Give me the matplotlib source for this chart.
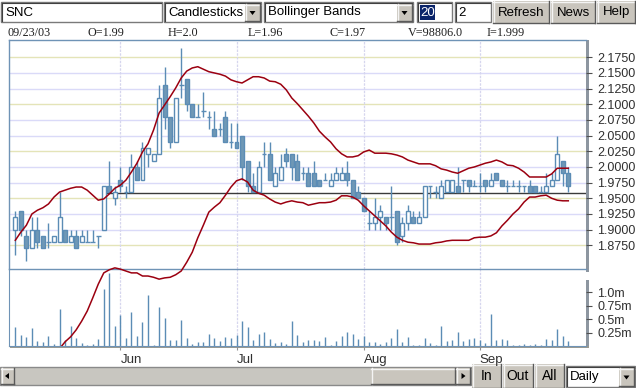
import numpy as np
import matplotlib
matplotlib.use('Agg')
import matplotlib.pyplot as plt
from matplotlib.patches import Rectangle, Polygon
from matplotlib.transforms import Bbox, TransformedBbox

# daily bars, 101 sessions ending 09/23/03
opens = [1.90, 1.93, 1.89, 1.87, 1.90, 1.89, 1.88, 1.88, 1.88, 1.90,
         1.88, 1.89, 1.88, 1.88, 1.88, 1.89, 1.90, 1.97, 1.95, 1.98,
         1.96, 1.96, 2.00, 1.98, 2.02, 2.01, 2.02, 2.13, 2.08, 2.04,
         2.13, 2.14, 2.10, 2.08, 2.09, 2.08, 2.06, 2.06, 2.08, 2.04,
         2.04, 2.05, 2.01, 1.97, 1.96, 2.02, 2.02, 1.97, 1.98, 2.02,
         2.02, 2.01, 1.99, 1.99, 1.99, 1.98, 1.98, 1.97, 1.98, 1.98,
         1.99, 1.98, 1.96, 1.95, 1.91, 1.91, 1.92, 1.92, 1.92, 1.93,
         1.89, 1.91, 1.92, 1.91, 1.92, 1.97, 1.96, 1.95, 1.96, 1.96,
         1.97, 1.98, 1.98, 1.97, 1.97, 1.98, 1.97, 1.99, 1.98, 1.97,
         1.97, 1.97, 1.97, 1.97, 1.97, 1.96, 1.96, 1.97, 1.98, 2.01,
         1.99]
highs = [1.93, 1.93, 1.90, 1.92, 1.92, 1.89, 1.91, 1.89, 1.96, 1.90,
         1.90, 1.90, 1.90, 1.90, 1.90, 1.89, 1.97, 2.01, 1.97, 2.00,
         1.97, 2.02, 2.01, 2.04, 2.03, 2.02, 2.13, 2.16, 2.08, 2.11,
         2.19, 2.14, 2.10, 2.10, 2.12, 2.09, 2.09, 2.07, 2.09, 2.07,
         2.07, 2.05, 2.01, 1.99, 2.01, 2.04, 2.04, 2.00, 2.02, 2.03,
         2.02, 2.02, 2.00, 2.00, 2.01, 1.98, 1.99, 1.99, 2.00, 2.00,
         2.01, 1.98, 1.97, 1.95, 1.93, 1.95, 1.94, 1.92, 1.97, 1.93,
         1.92, 1.94, 1.93, 1.93, 1.97, 1.97, 1.97, 1.98, 1.98, 1.98,
         2.00, 1.98, 1.98, 1.98, 1.99, 1.98, 1.99, 1.99, 1.98, 1.98,
         1.98, 1.98, 1.97, 1.98, 1.97, 1.97, 1.99, 1.99, 2.05, 2.01,
         2.00]
lows = [1.86, 1.89, 1.85, 1.87, 1.87, 1.87, 1.87, 1.88, 1.88, 1.88,
        1.88, 1.87, 1.88, 1.88, 1.88, 1.87, 1.90, 1.96, 1.94, 1.96,
        1.95, 1.96, 1.98, 1.98, 2.00, 2.01, 2.02, 2.06, 2.03, 2.04,
        2.11, 2.09, 2.08, 2.08, 2.08, 2.06, 2.05, 2.05, 2.04, 2.03,
        2.03, 1.98, 1.96, 1.96, 1.96, 2.00, 1.98, 1.97, 1.98, 2.00,
        1.98, 1.98, 1.98, 1.97, 1.97, 1.97, 1.98, 1.97, 1.98, 1.98,
        1.97, 1.95, 1.95, 1.93, 1.90, 1.90, 1.90, 1.90, 1.90, 1.875,
        1.88, 1.90, 1.91, 1.91, 1.92, 1.95, 1.95, 1.95, 1.96, 1.96,
        1.96, 1.96, 1.96, 1.97, 1.96, 1.96, 1.97, 1.98, 1.97, 1.96,
        1.97, 1.96, 1.96, 1.96, 1.96, 1.96, 1.96, 1.97, 1.98, 1.97,
        1.96]
closes = [1.92, 1.90, 1.87, 1.90, 1.88, 1.87, 1.88, 1.89, 1.92, 1.88,
          1.89, 1.87, 1.89, 1.88, 1.88, 1.89, 1.97, 1.96, 1.96, 1.97,
          1.96, 2.00, 1.98, 2.03, 2.03, 2.02, 2.11, 2.08, 2.04, 2.11,
          2.13, 2.10, 2.08, 2.08, 2.09, 2.08, 2.05, 2.06, 2.04, 2.04,
          2.03, 2.00, 1.97, 1.96, 2.00, 2.02, 1.98, 1.99, 2.00, 2.01,
          2.00, 1.98, 1.99, 1.97, 1.97, 1.97, 1.98, 1.98, 1.99, 1.99,
          1.98, 1.95, 1.95, 1.93, 1.91, 1.92, 1.93, 1.91, 1.92, 1.88,
          1.91, 1.93, 1.91, 1.92, 1.97, 1.97, 1.96, 1.97, 1.98, 1.98,
          1.96, 1.98, 1.97, 1.97, 1.97, 1.97, 1.98, 1.98, 1.97, 1.97,
          1.97, 1.97, 1.97, 1.96, 1.96, 1.96, 1.97, 1.98, 2.02, 1.99,
          1.97]
# volume in millions of shares
volumes = [0.36, 0.21, 0.17, 0.34, 0.09, 0.08, 0.19, 0.04, 0.70, 0.11,
           0.38, 0.15, 0.06, 0.02, 0.04, 0.13, 1.06, 1.36, 0.38, 0.57,
           0.15, 0.63, 0.19, 0.44, 0.95, 0.02, 0.72, 0.53, 0.11, 0.11,
           0.49, 0.15, 0.04, 0.08, 0.08, 0.23, 0.15, 0.09, 0.17, 0.15,
           0.20, 0.46, 0.36, 0.11, 0.23, 0.27, 0.13, 0.06, 0.08, 0.04,
           0.46, 0.20, 0.08, 0.11, 0.11, 0.09, 0.17, 0.02, 0.09, 0.19,
           0.27, 0.23, 0.13, 0.19, 0.08, 0.08, 0.04, 0.08, 0.15, 0.32,
           0.08, 0.17, 0.02, 0.02, 0.15, 0.06, 0.02, 0.38, 0.09, 0.11,
           0.27, 0.09, 0.13, 0.15, 0.11, 0.06, 0.59, 0.11, 0.13, 0.11,
           0.02, 0.02, 0.04, 0.02, 0.04, 0.02, 0.13, 0.11, 0.32, 0.19,
           0.0988]
# Bollinger bands (20, 2) as drawn
upper_band = [1.883, 1.896, 1.907, 1.925, 1.931, 1.935, 1.941, 1.952, 1.960, 1.963,
              1.966, 1.968, 1.968, 1.963, 1.955, 1.947, 1.949, 1.957, 1.966, 1.971,
              1.979, 1.992, 2.006, 2.024, 2.037, 2.059, 2.086, 2.099, 2.112, 2.126,
              2.142, 2.153, 2.158, 2.160, 2.156, 2.152, 2.150, 2.148, 2.145, 2.139,
              2.136, 2.134, 2.139, 2.144, 2.144, 2.142, 2.137, 2.136, 2.132, 2.123,
              2.110, 2.101, 2.091, 2.081, 2.070, 2.057, 2.048, 2.040, 2.029, 2.021,
              2.016, 2.016, 2.018, 2.024, 2.027, 2.022, 2.022, 2.022, 2.021, 2.019,
              2.016, 2.011, 2.008, 2.005, 2.005, 2.005, 2.002, 1.997, 1.995, 1.992,
              1.990, 1.994, 1.998, 2.000, 2.003, 2.006, 2.008, 2.011, 2.008, 2.003,
              2.002, 1.998, 1.992, 1.984, 1.984, 1.984, 1.984, 1.989, 1.998, 1.998,
              1.998]
lower_band = [None, None, None, None, None, None, None, None, 1.710, 1.721,
              1.729, 1.740, 1.754, 1.770, 1.791, 1.813, 1.831, 1.836, 1.839, 1.837,
              1.834, 1.831, 1.831, 1.826, 1.826, 1.824, 1.821, 1.823, 1.824, 1.828,
              1.834, 1.848, 1.864, 1.887, 1.907, 1.928, 1.936, 1.943, 1.955, 1.968,
              1.978, 1.981, 1.976, 1.963, 1.958, 1.955, 1.949, 1.944, 1.941, 1.944,
              1.946, 1.944, 1.943, 1.939, 1.941, 1.943, 1.943, 1.944, 1.947, 1.954,
              1.954, 1.952, 1.947, 1.938, 1.930, 1.922, 1.914, 1.906, 1.896, 1.888,
              1.883, 1.880, 1.879, 1.877, 1.877, 1.877, 1.879, 1.880, 1.882, 1.883,
              1.883, 1.883, 1.883, 1.887, 1.888, 1.888, 1.890, 1.895, 1.906, 1.915,
              1.925, 1.933, 1.944, 1.952, 1.952, 1.954, 1.955, 1.950, 1.947, 1.946,
              1.946]
ref_level = 1.959
ref_start = 16

month_labels = ['Jun', 'Jul', 'Aug', 'Sep']
month_starts = [19, 40, 63, 84]
price_ticks = [1.875, 1.900, 1.925, 1.950, 1.975, 2.000, 2.025, 2.050,
               2.075, 2.100, 2.125, 2.150, 2.175]
vol_ticks = [0.25, 0.5, 0.75, 1.0]
vol_tick_labels = ['0.25m', '0.5m', '0.75m', '1.0m']

info_items = ['09/23/03', 'O=1.99', 'H=2.0', 'L=1.96', 'C=1.97', 'V=98806.0', 'I=1.999']

BLUE = '#5b8cb5'
FILL = '#6f98b6'
RED = '#9b0010'
SANS = 'Liberation Sans'

W, H = 636, 388
fig = plt.figure(figsize=(W / 100, H / 100), dpi=100)
fig.patch.set_facecolor('white')

# ---------- widget layer (pixel coordinates) ----------
ui = fig.add_axes([0, 0, 1, 1], zorder=0)
ui.set_xlim(0, W)
ui.set_ylim(H, 0)
ui.axis('off')


def field(x0, y0, x1, y1, text=None, tx=None):
    ui.add_patch(Rectangle((x0, y0), x1 - x0, y1 - y0, facecolor='white',
                           edgecolor='#7a7a7a', lw=1))
    ui.plot([x0 + 1, x1 - 1], [y0 + 1, y0 + 1], color='#404040', lw=0.8)
    ui.plot([x0 + 1, x0 + 1], [y0 + 1, y1 - 1], color='#404040', lw=0.8)
    if text:
        ui.text(tx if tx else x0 + 4, (y0 + y1) / 2 + 0.5, text, ha='left',
                va='center', fontsize=9.5, family=SANS, color='black')


def button(x0, y0, x1, y1, label=None, size=9.5):
    ui.add_patch(Rectangle((x0, y0), x1 - x0, y1 - y0, facecolor='#c9c5bd',
                           edgecolor='none'))
    ui.plot([x0, x1], [y0 + 0.5, y0 + 0.5], color='#f4f4f4', lw=1)
    ui.plot([x0 + 0.5, x0 + 0.5], [y0, y1], color='#f4f4f4', lw=1)
    ui.plot([x0, x1], [y1 - 0.5, y1 - 0.5], color='#5a5a5a', lw=1)
    ui.plot([x1 - 0.5, x1 - 0.5], [y0, y1], color='#5a5a5a', lw=1)
    if label:
        ui.text((x0 + x1) / 2, (y0 + y1) / 2 + 0.5, label, ha='center',
                va='center', fontsize=size, family=SANS, color='black')


def arrow(cx, cy, direction='down', s=3):
    if direction == 'down':
        pts = [(cx - s, cy - s / 2), (cx + s, cy - s / 2), (cx, cy + s / 2 + 1)]
    elif direction == 'left':
        pts = [(cx + s / 2, cy - s), (cx + s / 2, cy + s), (cx - s / 2 - 1, cy)]
    else:
        pts = [(cx - s / 2, cy - s), (cx - s / 2, cy + s), (cx + s / 2 + 1, cy)]
    ui.add_patch(Polygon(pts, closed=True, facecolor='black', edgecolor='none'))


# top toolbar
field(1, 2, 162, 22, 'SNC')
field(164, 2, 261, 22, 'Candlesticks')
button(245, 4, 260, 21)
arrow(252.5, 12.5)
field(264, 2, 413, 22, 'Bollinger Bands')
button(397, 4, 412, 21)
arrow(404.5, 12.5)
field(417, 2, 452, 22)
ui.add_patch(Rectangle((419.5, 5), 15, 15, facecolor='#0a246a', edgecolor='none'))
ui.text(420.5, 12.8, '20', ha='left', va='center', fontsize=9.5, family=SANS, color='white')
field(455, 2, 491, 22, '2', tx=458)
button(493, 1, 549, 23, 'Refresh')
button(551, 1, 595, 23, 'News')
button(597, 1, 635, 23, 'Help')

# info line
info_x = [8, 88, 168, 248, 329, 408, 487]
for x, t in zip(info_x, info_items):
    ui.text(x, 33, t, ha='left', va='center', fontsize=8.7,
            family='Liberation Serif', color='#202020')

# bottom toolbar
ui.add_patch(Rectangle((0, 367), 471, 18, facecolor='#c8c6c0', edgecolor='#8a8a8a', lw=1))
button(1, 368, 14, 384)
arrow(7.5, 376, 'left', 3)
button(371, 368, 455, 384)
button(456, 368, 470, 384)
arrow(463, 376, 'right', 3)
button(472, 364, 501, 388, 'In', 10)
button(503, 364, 533, 388, 'Out', 10)
button(535, 364, 564, 388, 'All', 10)
field(566, 366, 635, 387, 'Daily')
button(619, 368, 634, 386)
arrow(626.5, 377)

# gray axis bars
ui.add_patch(Rectangle((586, 40), 3, 232, facecolor='#8d96a0', edgecolor='none'))
ui.add_patch(Rectangle((586, 280), 3, 68, facecolor='#8d96a0', edgecolor='none'))
ui.add_patch(Rectangle((10, 345.5), 579, 2.5, facecolor='#9a9a92', edgecolor='none'))

# ---------- price panel ----------
idx = np.arange(len(closes))
x_lo, x_hi = -1.14, 103.2
ax = fig.add_axes([9 / W, 1 - 269 / H, 577 / W, 229 / H], zorder=2)
vax = fig.add_axes([9 / W, 1 - 346 / H, 577 / W, 77 / H], zorder=1)
ax.set_facecolor('none')
vax.set_facecolor('white')

ax.set_xlim(x_lo, x_hi)
ax.set_ylim(1.8372, 2.2026)

for k, lvl in enumerate(price_ticks[::-1]):
    col = '#e4e4b8' if k % 3 == 0 else '#dadaf8'
    ax.axhline(lvl, color=col, lw=1, zorder=0)
for m in month_starts:
    ax.axvline(m, color='#d6d6ee', lw=0.9, ls=(0, (2, 1)), zorder=0)
    vax.axvline(m, color='#d6d6ee', lw=0.9, ls=(0, (2, 1)), zorder=0)

ax.hlines(ref_level, ref_start, x_hi, color='#3a3a3a', lw=1, zorder=1)

o = np.array(opens)
c = np.array(closes)
ax.vlines(idx, lows, highs, color=BLUE, lw=1, zorder=2)
up = c > o
down = c < o
flat = c == o
ax.bar(idx[up], (c - o)[up], bottom=o[up], width=0.72, facecolor='white',
       edgecolor=BLUE, lw=1, zorder=3)
ax.bar(idx[down], (o - c)[down], bottom=c[down], width=0.72, facecolor=FILL,
       edgecolor=BLUE, lw=1, zorder=3)
ax.hlines(o[flat], idx[flat] - 0.42, idx[flat] + 0.42, color=BLUE, lw=1, zorder=3)

band_clip = TransformedBbox(Bbox([[9 / W, 1 - 346 / H], [586 / W, 1 - 40 / H]]),
                            fig.transFigure)
lb = np.array([np.nan if v is None else v for v in lower_band])
for series in (upper_band, lb):
    line, = ax.plot(idx, series, color=RED, lw=1.1, zorder=4)
    line.set_clip_on(True)
    line.set_clip_box(band_clip)

for side in ['left', 'top', 'bottom']:
    ax.spines[side].set_color('#6f93b6')
    ax.spines[side].set_linewidth(1)
ax.spines['right'].set_visible(False)
ax.set_xticks([])
ax.set_yticks(price_ticks)
ax.set_yticklabels(['%.4f' % t for t in price_ticks])
ax.yaxis.tick_right()
ax.tick_params(axis='y', length=4.5, width=0.8, color='#505050', pad=3.5,
               labelsize=9, labelcolor='#303030')
for lab in ax.get_yticklabels():
    lab.set_family(SANS)

# ---------- volume panel ----------
vax.set_xlim(x_lo, x_hi)
vax.set_ylim(0, 1.439)
vax.vlines(idx, 0, volumes, color=BLUE, lw=1, zorder=2)
vax.spines['left'].set_color('#6f93b6')
vax.spines['top'].set_visible(False)
vax.spines['right'].set_visible(False)
vax.spines['bottom'].set_color('#6f93b6')
vax.set_yticks(vol_ticks)
vax.set_yticklabels(vol_tick_labels)
vax.yaxis.tick_right()
vax.tick_params(axis='y', length=4.5, width=0.8, color='#505050', pad=3.5,
                labelsize=9, labelcolor='#303030')
vax.set_xticks(month_starts)
vax.set_xticklabels(month_labels)
vax.tick_params(axis='x', length=3, width=0.8, color='#909090', pad=2.5,
                labelsize=9.5, labelcolor='#303030')
for lab in vax.get_xticklabels():
    lab.set_horizontalalignment('left')
    lab.set_family(SANS)
for lab in vax.get_yticklabels():
    lab.set_family(SANS)

fig.savefig('out.png', dpi=100)
